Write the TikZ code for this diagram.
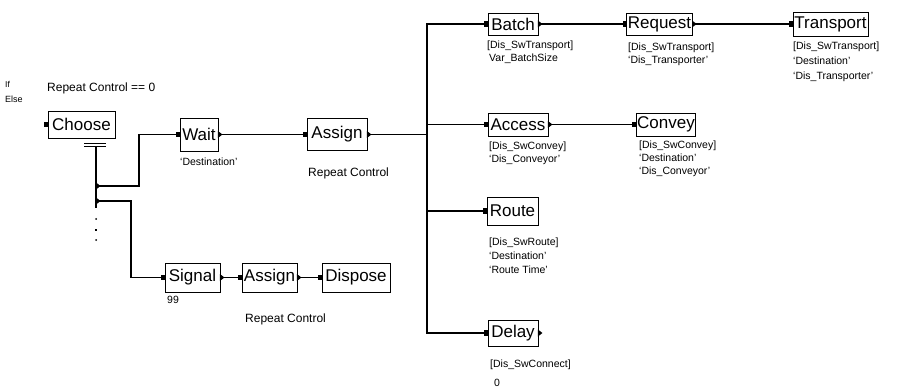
\documentclass[tikz,border=0pt]{standalone}
\usepackage{fontspec}
\setmainfont{Liberation Sans}
\usetikzlibrary{arrows}

\tikzset{
  blk/.style={draw, line width=0.9pt, inner xsep=1pt, inner ysep=0pt, font=\fontsize{17}{19}\selectfont},
  lbl/.style={inner sep=0pt, align=left, anchor=base west, font=\fontsize{10.5}{13}\selectfont},
  big/.style={lbl, font=\fontsize{12}{14}\selectfont},
  wire/.style={line width=1.1pt}
}

\begin{document}
\begin{tikzpicture}[x=1pt,y=-1pt]
  \useasboundingbox (0,0) rectangle (901,387);

	% condition text
	\node[lbl, font=\fontsize{8.5}{9}\selectfont] (iflbl) at (5,88) {If};
	\node[lbl, font=\fontsize{9}{9}\selectfont] (elselbl) at (5,103) {Else};
	\node[big] (condlbl) at (47,92) {Repeat Control == 0};

	% blocks
	\node[blk, minimum width=67, minimum height=27] (choose) at (81.5,124.5) {Choose};
	\node[blk, minimum width=38, minimum height=33] (wait) at (199,134.5) {Wait};
	\node[blk, minimum width=60, minimum height=32] (assigna) at (337,134.5) {Assign};
	\node[blk, minimum width=55, minimum height=29] (signal) at (192.5,277.5) {Signal};
	\node[blk, minimum width=55, minimum height=29] (assignb) at (269.5,277.5) {Assign};
	\node[blk, minimum width=68, minimum height=29] (dispose) at (356,277.5) {Dispose};
	\node[blk, minimum width=50, minimum height=22] (batch) at (513,24) {Batch};
	\node[blk, minimum width=65, minimum height=22] (request) at (659.5,24) {Request};
	\node[blk, minimum width=75, minimum height=24] (transport) at (830.5,24) {Transport};
	\node[blk, minimum width=60, minimum height=23] (access) at (518,124.5) {Access};
	\node[blk, minimum width=58, minimum height=23] (convey) at (666,124.5) {Convey};
	\node[blk, minimum width=51, minimum height=28] (route) at (512.5,211) {Route};
	\node[blk, minimum width=50, minimum height=26] (delay) at (513,333) {Delay};

	% ports
	\foreach \b in {choose,wait,assigna,signal,assignb,dispose,batch,request,transport,access,convey,route,delay}
	  \fill[shift={(\b.west)}] (-3.5,-2.8) rectangle (0.5,2.8);
	\foreach \b in {wait,assigna,signal,assignb,batch,request,access,delay}
	  \fill[shift={(\b.east)}] (-0.5,-3.5) -- (4,0) -- (-0.5,3.5) -- cycle;

	% choose exits
	\draw[line width=0.8pt] (84,143.8) -- (106,143.8) (84,146.6) -- (106,146.6);
	\coordinate (chtop) at (96,146.6);
	\coordinate (forka) at (96,186);
	\coordinate (forkb) at (96,201);
	\coordinate (chbot) at (96,208);
	\draw[wire] (chtop) -- (chbot);
	\draw[wire] (forka) -- ++(43,0) |- (wait.west);
	\draw[wire] (forkb) -- ++(35,0) |- (signal.west);
	\fill[shift={(forka)}] (0,-3.5) -- (4.5,0) -- (0,3.5) -- cycle;
	\fill[shift={(forkb)}] (0,-3.5) -- (4.5,0) -- (0,3.5) -- cycle;
	\fill (96,219) circle [radius=1];
	\fill (94.6,228.6) rectangle (97.4,231.4);
	\fill (96,240) circle [radius=1];

	% connections
	\coordinate (bus) at (427,134.5);
	\draw[wire] (wait.east) -- (assigna.west);
	\draw[wire] (assigna.east) -- (bus);
	\draw[wire] (batch.west) -| (bus) |- (delay.west);
	\draw[wire] (bus |- access.west) -- (access.west);
	\draw[wire] (bus |- route.west) -- (route.west);
	\draw[wire] (batch.east) -- (request.west);
	\draw[wire] (request.east) -- (transport.west);
	\draw[wire] (access.east) -- (convey.west);
	\draw[wire] (signal.east) -- (assignb.west);
	\draw[wire] (assignb.east) -- (dispose.west);

	% operands (multi-line: placed at the last baseline)
	\node[lbl] (waitlbl) at (180,166) {`Destination'};
	\node[big] (assignalbl) at (308,177) {Repeat Control};
	\node[lbl] (signallbl) at (167,303) {99};
	\node[big] (assignblbl) at (245,322) {Repeat Control};
	\node[lbl] (batchlbl) at (487,62) {[Dis\_SwTransport]\\\hspace*{2pt}Var\_BatchSize};
	\node[lbl] (requestlbl) at (628,64) {[Dis\_SwTransport]\\`Dis\_Transporter'};
	\node[lbl, font=\fontsize{10.5}{15}\selectfont] (transportlbl) at (793,80) {[Dis\_SwTransport]\\`Destination'\\`Dis\_Transporter'};
	\node[lbl] (accesslbl) at (489,163) {[Dis\_SwConvey]\\`Dis\_Conveyor'};
	\node[lbl] (conveylbl) at (639,175) {[Dis\_SwConvey]\\`Destination'\\`Dis\_Conveyor'};
	\node[lbl, font=\fontsize{10.5}{14}\selectfont] (routelbl) at (489,273) {[Dis\_SwRoute]\\`Destination'\\`Route Time'};
	\node[lbl] (delaylbl) at (490,367) {[Dis\_SwConnect]};
	\node[lbl] (delayval) at (494,386) {0};
\end{tikzpicture}
\end{document}
